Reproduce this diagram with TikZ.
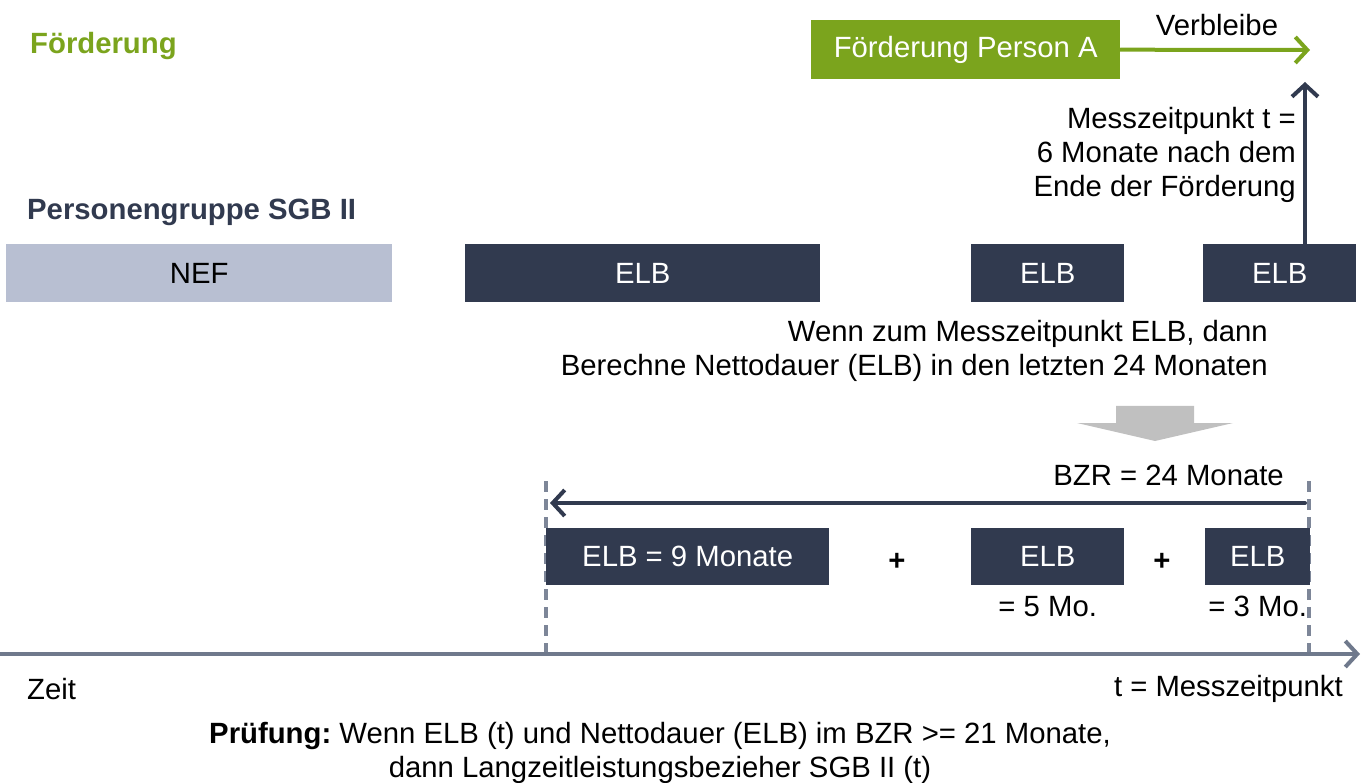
\documentclass[tikz,border=0pt]{standalone}
\usepackage{fontspec}
\setmainfont{Liberation Sans}
\usetikzlibrary{arrows.meta}
\definecolor{fgreen}{HTML}{7BA41D}
\definecolor{navy}{HTML}{313A4F}
\definecolor{nefblue}{HTML}{B8BFD2}
\definecolor{slate}{HTML}{6F798C}
\definecolor{dashgrey}{HTML}{7D8698}
\definecolor{lgrey}{HTML}{C0C0C0}
\tikzset{
  txt/.style={inner sep=0pt, font=\fontsize{29.3}{34}\selectfont},
  boldtxt/.style={txt, font=\fontsize{29.3}{34}\selectfont\bfseries},
  darkbox/.style={txt, fill=navy, text=white, anchor=north west},
  nefbox/.style={txt, fill=nefblue, text=black, anchor=north west},
  greenbox/.style={txt, fill=fgreen, text=white, anchor=north west},
  barb/.style={line width=4pt, line cap=round, -{Straight Barb[length=12pt,width=26pt]}},
  dashline/.style={dashgrey, line width=3.5pt, dash pattern=on 11pt off 7pt},
}
\begin{document}
\begin{tikzpicture}[x=1pt,y=-1pt]
\useasboundingbox (0,0) rectangle (1368,783);
% Förderung row
\node[boldtxt, anchor=west, text=fgreen] (ftitle) at (30,46) {Förderung};
\node[greenbox, minimum width=309pt, minimum height=59pt] (fbox) at (811,20) {Förderung Person A};
\coordinate (vtip) at (1310,50);
\draw[barb, fgreen] (fbox.east) -- (vtip);
\node[txt] (verb) at (1217,25) {Verbleibe};
% Personengruppe row
\node[boldtxt, anchor=west, text=navy] (pgroup) at (27,212) {Personengruppe SGB II};
\node[nefbox, minimum width=386pt, minimum height=58pt] (nef) at (6,244) {NEF};
\node[darkbox, minimum width=355pt, minimum height=58pt] (elbA) at (465,244) {ELB};
\node[darkbox, minimum width=153pt, minimum height=58pt] (elbB) at (971,244) {ELB};
\node[darkbox, minimum width=153pt, minimum height=58pt] (elbC) at (1203,244) {ELB};
\coordinate (mtop) at (1305,82);
\draw[barb, navy] (elbC.north -| mtop) -- (mtop);
\node[txt, anchor=east, align=right] (mess) at (1296,155) {Messzeitpunkt t =\\6 Monate nach dem\\Ende der Förderung};
% Wenn text
\node[txt, anchor=east, align=right] (wenn) at (1268,351) {Wenn zum Messzeitpunkt ELB, dann\\Berechne Nettodauer (ELB) in den letzten 24 Monaten};
% grey block arrow
\fill[lgrey] (1116,406) -- (1194,406) -- (1194,423) -- (1233,423) -- (1155,441) -- (1077,423) -- (1116,423) -- cycle;
% BZR
\node[txt, anchor=east] (bzr) at (1284,475) {BZR = 24 Monate};
\coordinate (dlt) at (546,481);
\coordinate (dlb) at (546,654);
\coordinate (drt) at (1309,481);
\coordinate (drb) at (1309,654);
\draw[dashline] (dlt) -- (dlb);
\draw[dashline] (drt) -- (drb);
\coordinate (bzrR) at (1305,503);
\coordinate (bzrL) at (550,503);
\draw[barb, navy] (bzrR) -- (bzrL);
% bottom boxes
\node[darkbox, minimum width=283pt, minimum height=57pt] (b1) at (546,528) {ELB = 9 Monate};
\node[boldtxt] (plus1) at (897,562) {+};
\node[darkbox, minimum width=153pt, minimum height=57pt] (b2) at (971,528) {ELB};
\node[boldtxt] (plus2) at (1162,562) {+};
\node[darkbox, minimum width=105pt, minimum height=57pt] (b3) at (1205,528) {ELB};
\node[txt, anchor=north] (mo5) at (b2.south |- 0,596) {= 5 Mo.};
\node[txt, anchor=north] (mo3) at (b3.south |- 0,596) {= 3 Mo.};
% timeline
\coordinate (t0) at (0,654);
\coordinate (t1) at (1360,654);
\draw[barb, slate] (t0) -- (t1);
\node[txt, anchor=west] (zeit) at (27,689) {Zeit};
\node[txt, anchor=east] (tmess) at (1343,689) {t = Messzeitpunkt};
% Prüfung
\node[txt, align=center] (pruef) at (660,753) {\textbf{Prüfung:}~Wenn ELB (t) und Nettodauer (ELB) im BZR >= 21 Monate,\\dann Langzeitleistungsbezieher SGB II (t)};
\end{tikzpicture}
\end{document}
